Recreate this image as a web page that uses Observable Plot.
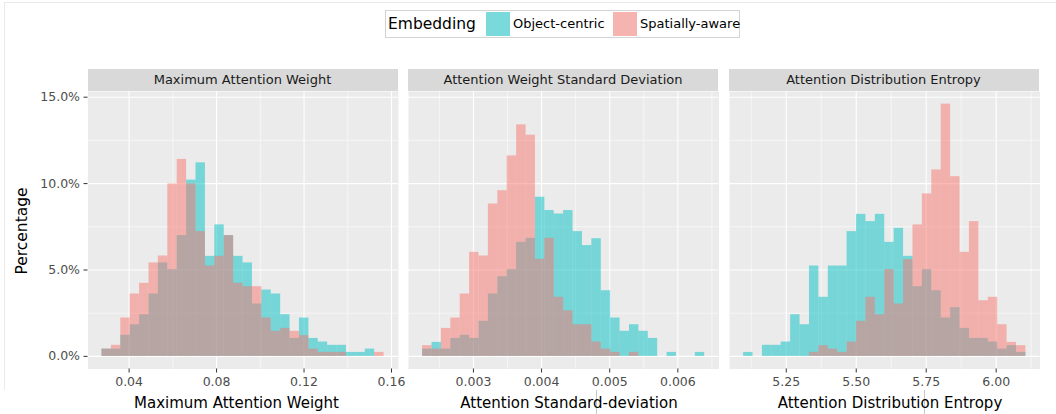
<!DOCTYPE html>
<html><head><meta charset="utf-8">
<script src="https://cdn.jsdelivr.net/npm/d3@7"></script>
<script src="https://cdn.jsdelivr.net/npm/@observablehq/plot@0.6"></script>
<style>
body{margin:0;background:#fff;font-family:"DejaVu Sans",sans-serif;}
#root{position:relative;width:1056px;height:414px;overflow:hidden;background:#fff;}
.frameline{position:absolute;left:4px;top:2px;width:1052px;height:388px;border-top:1px solid #e9e9e9;border-left:1px solid #e9e9e9;box-sizing:border-box;}
.vline{position:absolute;top:390px;width:1px;height:24px;background:#c8c8c8;}
.strip{position:absolute;top:69px;height:21.5px;background:#d9d9d9;color:#1a1a1a;font-size:13px;line-height:21.5px;text-align:center;white-space:nowrap;}
.xtitle{position:absolute;top:393px;height:20px;width:300px;font-size:15px;line-height:20px;text-align:center;color:#000;white-space:nowrap;transform:translateX(-50%);}
.ytitle{position:absolute;left:22px;top:231px;font-size:15.5px;color:#000;white-space:nowrap;transform:translate(-50%,-50%) rotate(-90deg);}
.legend{position:absolute;left:385px;top:10px;width:355px;height:28px;border:1px solid #d4d4d4;box-sizing:border-box;background:#fff;}
.legend .t{position:absolute;left:2px;top:0;line-height:26px;font-size:15.5px;color:#000;white-space:nowrap;}
.legend .key{position:absolute;top:1px;width:24px;height:24px;background:#f2f2f2;}
.legend .key div{width:100%;height:100%;opacity:0.5;}
.legend .lab{position:absolute;top:0;line-height:26px;font-size:13px;color:#000;white-space:nowrap;}
.panel{position:absolute;top:91px;}
.panel svg{overflow:visible;}
</style></head><body><div id="root"></div>
<script>
// ---- data ----
const seriesNames = ["Object-centric", "Spatially-aware"];
const seriesColors = ["#00BFC4", "#F8766D"];
const panelTitles = ["Maximum Attention Weight", "Attention Weight Standard Deviation", "Attention Distribution Entropy"];
const axisTitles = ["Maximum Attention Weight", "Attention Standard-deviation", "Attention Distribution Entropy"];

// histogram bin start and width (30 bins each)
const binStart = [0.0276, 0.002254, 5.0976];
const binWidth = [0.0043, 0.000138, 0.03362];

// percentages per bin
const objectMaxWeight = [0.42,0.42,1.22,1.83,2.41,3.61,5.41,5.02,6.99,10.2,11.2,5.79,7.61,6.99,5.79,5.41,3.03,3.84,3.61,2.41,1.04,2.22,1.04,0.83,0.64,0.64,0.23,0.23,0.42,0];
const spatialMaxWeight = [0.42,0.64,2.22,3.61,4.23,5.41,5.81,9.98,11.4,9.98,7.22,5.23,5.79,6.99,4.23,4.03,4.03,2.22,1.45,1.62,1.45,1.20,0.42,0.23,0.23,0.23,0,0,0,0.23];
const objectStd = [0.42,0.81,0.42,1.04,1.22,1.04,2.03,3.61,4.61,5.02,6.60,6.83,9.21,8.44,8.24,8.44,7.22,6.41,6.81,3.80,2.22,1.45,1.83,1.45,1.04,0,0.23,0,0,0.23];
const spatialStd = [0.62,0.42,1.62,2.22,3.61,6.02,5.81,8.82,9.59,11.6,13.4,12.8,5.62,6.83,3.42,2.64,1.83,1.83,0.83,0.42,0.23,0,0.23,0,0,0,0,0,0,0];
const objectEntropy = [0.23,0,0.64,0.64,0.83,2.41,1.83,5.23,3.42,5.23,5.23,7.22,8.22,7.80,8.22,6.60,7.41,5.79,4.03,5.02,3.80,2.22,2.82,1.62,1.04,1.04,0.83,0.42,0.62,0.23];
const spatialEntropy = [0,0,0,0,0,0,0,0.23,0.62,0.42,0.23,0.83,2.03,3.42,2.41,5.02,3.03,5.60,7.61,9.40,10.79,14.6,10.4,6.02,7.80,3.22,3.42,1.83,0.81,0.62];

// axes
const xDomains = [[0.0212, 0.1632], [0.002047, 0.006604], [5.0472, 6.1566]];
const xTicks = [[0.04, 0.08, 0.12, 0.16], [0.003, 0.004, 0.005, 0.006], [5.25, 5.5, 5.75, 6.0]];
const xMinor = [[0.06, 0.10, 0.14], [0.0025, 0.0035, 0.0045, 0.0055, 0.0065], [5.125, 5.375, 5.625, 5.875, 6.125]];
const xDigits = [2, 3, 2];
const yDomain = [-0.73, 15.33];
const yTicks = [0, 5, 10, 15];
const yMinor = [2.5, 7.5, 12.5];

// ---- layout ----
const panelLeft = [87.5, 408, 728.5];
const titleCenter = [236.5, 569, 890];
const panelW = 310.5;
const svgH = 323;
const panelH = 277.5;

const values = [[objectMaxWeight, spatialMaxWeight], [objectStd, spatialStd], [objectEntropy, spatialEntropy]];

const root = document.getElementById("root");
root.insertAdjacentHTML("beforeend", `<div class="frameline"></div><div class="vline" style="left:596px"></div><div class="vline" style="left:924px"></div>`);

// legend
const legend = document.createElement("div");
legend.className = "legend";
legend.innerHTML = `<span class="t">Embedding</span>
<div class="key" style="left:100px"><div style="background:${seriesColors[0]}"></div></div>
<span class="lab" style="left:127px">${seriesNames[0]}</span>
<div class="key" style="left:227px"><div style="background:${seriesColors[1]}"></div></div>
<span class="lab" style="left:254px">${seriesNames[1]}</span>`;
root.appendChild(legend);

// y title
const yt = document.createElement("div");
yt.className = "ytitle";
yt.textContent = "Percentage";
root.appendChild(yt);

for (let i = 0; i < 3; i++) {
  const rows = [];
  seriesNames.forEach((s, si) => {
    values[i][si].forEach((v, k) => {
      if (v > 0) rows.push({series: s, x1: binStart[i] + k * binWidth[i], x2: binStart[i] + (k + 1) * binWidth[i], pct: v});
    });
  });
  const ml = i === 0 ? panelLeft[0] : 0;
  const white = {stroke: "#ffffff", strokeOpacity: 1};
  const marks = [
    Plot.frame({fill: "#ebebeb", stroke: "none"}),
    Plot.gridY(yMinor, {...white, strokeWidth: 0.55}),
    Plot.gridX(xMinor[i], {...white, strokeWidth: 0.55}),
    Plot.gridY(yTicks, {...white, strokeWidth: 1.1}),
    Plot.gridX(xTicks[i], {...white, strokeWidth: 1.1}),
    Plot.rect(rows, {x1: "x1", x2: "x2", y1: () => 0, y2: "pct", fill: "series", fillOpacity: 0.5}),
    Plot.axisX(xTicks[i], {tickFormat: d => d.toFixed(xDigits[i]), tickSize: 4, tickPadding: 4.5, label: null, stroke: "#333333", fill: "#4d4d4d"})
  ];
  if (i === 0) marks.push(Plot.axisY(yTicks, {tickFormat: d => d.toFixed(1) + "%", tickSize: 4, tickPadding: 4, label: null, stroke: "#333333", fill: "#4d4d4d"}));
  const chart = Plot.plot({
    width: ml + panelW,
    height: svgH,
    marginLeft: ml, marginRight: 0, marginTop: 0, marginBottom: svgH - panelH,
    style: {fontFamily: "DejaVu Sans", fontSize: "12.5px", color: "#4d4d4d", background: "transparent", overflow: "visible"},
    x: {domain: xDomains[i]},
    y: i === 0 ? {domain: yDomain} : {domain: yDomain, axis: null},
    color: {domain: seriesNames, range: seriesColors},
    marks
  });
  const wrap = document.createElement("div");
  wrap.className = "panel";
  wrap.style.left = (i === 0 ? 0 : panelLeft[i]) + "px";
  wrap.appendChild(chart);
  root.appendChild(wrap);

  const strip = document.createElement("div");
  strip.className = "strip";
  strip.style.left = panelLeft[i] + "px";
  strip.style.width = (panelW - 0.5) + "px";
  strip.textContent = panelTitles[i];
  root.appendChild(strip);

  const xt = document.createElement("div");
  xt.className = "xtitle";
  xt.style.left = titleCenter[i] + "px";
  xt.textContent = axisTitles[i];
  root.appendChild(xt);
}
</script></body></html>
